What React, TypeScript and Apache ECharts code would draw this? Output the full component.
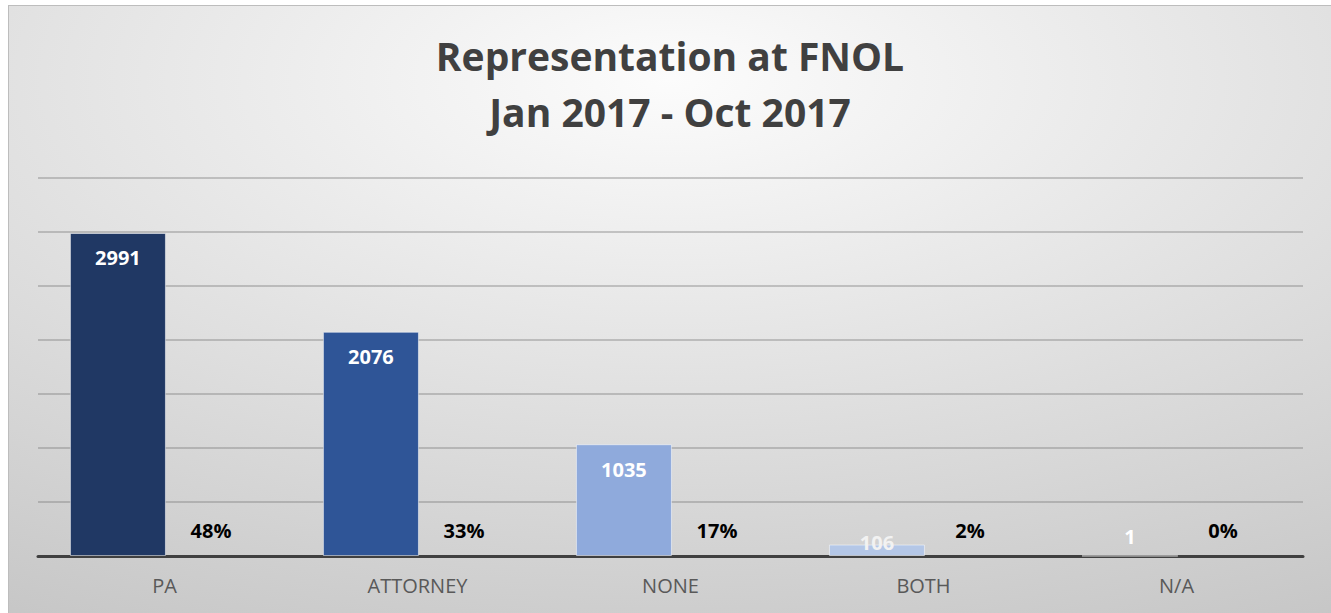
import React, { useEffect, useRef } from "react";
import * as echarts from "echarts";

const titleLines = ["Representation at FNOL", "Jan 2017 - Oct 2017"];
const categories = ["PA", "ATTORNEY", "NONE", "BOTH", "N/A"];
const counts = [2991, 2076, 1035, 106, 1];
const percents = [48, 33, 17, 2, 0];
const barColors = ["#203864", "#2F5597", "#8FAADC", "#B4C7E7", "#DAE3F3"];

const FONT = "'Open Sans', Lato, sans-serif";

export default function App() {
  const ref = useRef<HTMLDivElement>(null);
  useEffect(() => {
    if (!ref.current) return;
    const chart = echarts.init(ref.current, undefined, { renderer: "svg" });
    chart.setOption({
      animation: false,
      backgroundColor: {
        type: "radial",
        x: 0.5,
        y: 0.12,
        r: 1.1,
        colorStops: [
          { offset: 0, color: "#fcfcfc" },
          { offset: 1, color: "#c2c2c2" },
        ],
      },
      title: {
        text: titleLines.join("\n"),
        left: "center",
        top: 16,
        textStyle: {
          fontFamily: FONT,
          fontWeight: "bold",
          fontSize: 39,
          lineHeight: 56,
          color: "#404040",
        },
      },
      grid: { left: 29, right: 28, top: 172, bottom: 57, containLabel: false },
      xAxis: {
        type: "category",
        data: categories,
        axisLine: { lineStyle: { color: "#404040", width: 3 } },
        axisTick: { show: false },
        axisLabel: { color: "#595959", fontSize: 20, fontFamily: FONT, margin: 19 },
      },
      yAxis: [
        {
          type: "value",
          min: 0,
          max: 3500,
          interval: 500,
          axisLabel: { show: false },
          axisLine: { show: false },
          axisTick: { show: false },
          splitLine: { lineStyle: { color: "rgba(120,120,120,0.38)", width: 2 } },
        },
        {
          type: "value",
          min: 0,
          max: 100,
          show: false,
          splitLine: { show: false },
        },
      ],
      series: [
        {
          type: "bar",
          name: "Count",
          barWidth: 96,
          barGap: "-3%",
          data: counts.map((v, i) => {
            const item: any = {
              value: v,
              itemStyle: { color: barColors[i], borderColor: "rgba(255,255,255,0.5)", borderWidth: 1 },
            };
            if (i === 3) item.label = { position: "insideBottom", distance: 4, color: "#f2f2f2" };
            if (i === 4) item.label = { position: "insideBottom", distance: 10, color: "#ffffff" };
            return item;
          }),
          label: {
            show: true,
            position: "insideTop",
            distance: 15,
            color: "#ffffff",
            fontWeight: "bold",
            fontSize: 20,
            fontFamily: FONT,
          },
        },
        {
          type: "bar",
          name: "Percent",
          yAxisIndex: 1,
          barWidth: 96,
          data: percents,
          itemStyle: { color: "rgba(0,0,0,0)" },
          label: {
            show: true,
            position: "insideBottom",
            distance: 16,
            color: "#000000",
            fontWeight: "bold",
            fontSize: 20,
            fontFamily: FONT,
            formatter: (p: any) => p.value + "%",
          },
        },
      ],
    });
    return () => chart.dispose();
  }, []);
  return (
    <div
      ref={ref}
      style={{
        position: "absolute",
        left: 8,
        top: 5,
        width: 1323,
        height: 608,
        borderTop: "1px solid #bdbdbd",
        borderLeft: "1px solid #bdbdbd",
        boxSizing: "border-box",
      }}
    />
  );
}
